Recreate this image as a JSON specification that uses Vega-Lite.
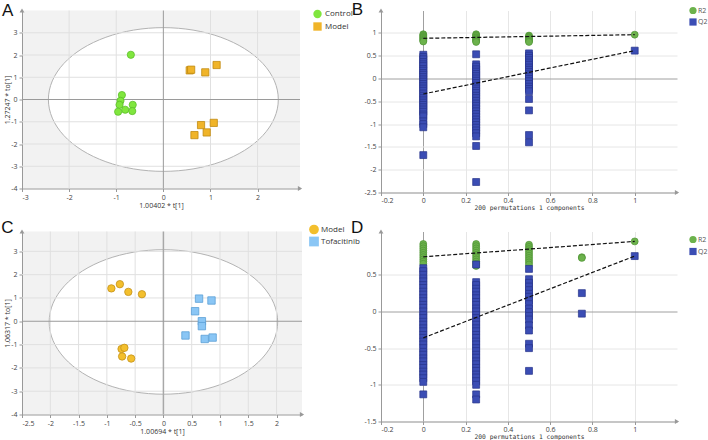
{
"$schema": "https://vega.github.io/schema/vega-lite/v6.json",
"padding": {"left": 1, "top": 0.5, "right": 0, "bottom": 0},
"background": "white",
"config": {
 "locale": {"number": {"decimal": ".", "thousands": ",", "grouping": [3], "currency": ["$", ""], "minus": "-"}},
 "view": {"stroke": null},
 "axis": {"labelFont": "Open Sans", "labelFontSize": 7, "labelColor": "#444", "titleFont": "Open Sans", "titleFontSize": 7, "titleFontWeight": "normal", "titleColor": "#333", "domainColor": "#999", "tickColor": "#999", "tickSize": 3, "labelPadding": 2, "grid": false, "labelOverlap": false, "format": "~g", "tickCount": 20},
 "legend": {"labelFont": "Open Sans", "labelColor": "#333", "padding": 0},
 "text": {"font": "Liberation Sans", "fontSize": 17, "color": "#111", "align": "left", "baseline": "alphabetic"}
},
"datasets": {
 "one": [{"k": 1}],
 "ellA": [
  {"i":0,"x":2.44,"y":0},{"i":1,"x":2.357,"y":0.836},{"i":2,"x":2.113,"y":1.615},{"i":3,"x":1.725,"y":2.284},{"i":4,"x":1.22,"y":2.797},{"i":5,"x":0.631,"y":3.12},{"i":6,"x":0,"y":3.23},{"i":7,"x":-0.631,"y":3.12},{"i":8,"x":-1.22,"y":2.797},{"i":9,"x":-1.725,"y":2.284},{"i":10,"x":-2.113,"y":1.615},{"i":11,"x":-2.357,"y":0.836},{"i":12,"x":-2.44,"y":0},{"i":13,"x":-2.357,"y":-0.836},{"i":14,"x":-2.113,"y":-1.615},{"i":15,"x":-1.725,"y":-2.284},{"i":16,"x":-1.22,"y":-2.797},{"i":17,"x":-0.631,"y":-3.12},{"i":18,"x":0,"y":-3.23},{"i":19,"x":0.631,"y":-3.12},{"i":20,"x":1.22,"y":-2.797},{"i":21,"x":1.725,"y":-2.284},{"i":22,"x":2.113,"y":-1.615},{"i":23,"x":2.357,"y":-0.836}
 ],
 "ellC": [
  {"i":0,"x":2.02,"y":-0.03},{"i":1,"x":1.951,"y":0.772},{"i":2,"x":1.749,"y":1.52},{"i":3,"x":1.428,"y":2.162},{"i":4,"x":1.01,"y":2.655},{"i":5,"x":0.523,"y":2.964},{"i":6,"x":0,"y":3.07},{"i":7,"x":-0.523,"y":2.964},{"i":8,"x":-1.01,"y":2.655},{"i":9,"x":-1.428,"y":2.162},{"i":10,"x":-1.749,"y":1.52},{"i":11,"x":-1.951,"y":0.772},{"i":12,"x":-2.02,"y":-0.03},{"i":13,"x":-1.951,"y":-0.832},{"i":14,"x":-1.749,"y":-1.58},{"i":15,"x":-1.428,"y":-2.222},{"i":16,"x":-1.01,"y":-2.715},{"i":17,"x":-0.523,"y":-3.024},{"i":18,"x":0,"y":-3.13},{"i":19,"x":0.523,"y":-3.024},{"i":20,"x":1.01,"y":-2.715},{"i":21,"x":1.428,"y":-2.222},{"i":22,"x":1.749,"y":-1.58},{"i":23,"x":1.951,"y":-0.832}
 ],
 "ptsA": [
  {"x":-0.69,"y":2.01,"g":"Control"},{"x":-0.88,"y":0.2,"g":"Control"},{"x":-0.91,"y":-0.06,"g":"Control"},{"x":-0.93,"y":-0.24,"g":"Control"},{"x":-0.65,"y":-0.24,"g":"Control"},{"x":-0.81,"y":-0.46,"g":"Control"},{"x":-0.96,"y":-0.55,"g":"Control"},{"x":-0.66,"y":-0.52,"g":"Control"},
  {"x":0.56,"y":1.31,"g":"Model"},{"x":0.59,"y":1.34,"g":"Model"},{"x":0.89,"y":1.22,"g":"Model"},{"x":1.13,"y":1.55,"g":"Model"},{"x":1.07,"y":-1.05,"g":"Model"},{"x":0.8,"y":-1.15,"g":"Model"},{"x":0.92,"y":-1.48,"g":"Model"},{"x":0.66,"y":-1.6,"g":"Model"}
 ],
 "ptsC": [
  {"x":-0.92,"y":1.41,"g":"Model"},{"x":-0.77,"y":1.59,"g":"Model"},{"x":-0.62,"y":1.26,"g":"Model"},{"x":-0.38,"y":1.16,"g":"Model"},{"x":-0.74,"y":-1.19,"g":"Model"},{"x":-0.69,"y":-1.14,"g":"Model"},{"x":-0.73,"y":-1.51,"g":"Model"},{"x":-0.57,"y":-1.6,"g":"Model"},
  {"x":0.63,"y":0.97,"g":"Tofacitinib"},{"x":0.85,"y":0.89,"g":"Tofacitinib"},{"x":0.56,"y":0.43,"g":"Tofacitinib"},{"x":0.68,"y":0.0,"g":"Tofacitinib"},{"x":0.68,"y":-0.21,"g":"Tofacitinib"},{"x":0.39,"y":-0.61,"g":"Tofacitinib"},{"x":0.73,"y":-0.76,"g":"Tofacitinib"},{"x":0.87,"y":-0.7,"g":"Tofacitinib"}
 ],
 "permB": [
  {"x":0,"y":0.97,"s":"R2"},{"x":0,"y":0.95,"s":"R2"},{"x":0,"y":0.93,"s":"R2"},{"x":0,"y":0.91,"s":"R2"},{"x":0,"y":0.89,"s":"R2"},{"x":0,"y":0.87,"s":"R2"},{"x":0,"y":0.85,"s":"R2"},{"x":0,"y":0.83,"s":"R2"},{"x":0,"y":0.81,"s":"R2"},
  {"x":0.25,"y":0.97,"s":"R2"},{"x":0.25,"y":0.95,"s":"R2"},{"x":0.25,"y":0.93,"s":"R2"},{"x":0.25,"y":0.9,"s":"R2"},{"x":0.25,"y":0.88,"s":"R2"},{"x":0.25,"y":0.86,"s":"R2"},{"x":0.25,"y":0.84,"s":"R2"},{"x":0.25,"y":0.82,"s":"R2"},{"x":0.25,"y":0.8,"s":"R2"},
  {"x":0.5,"y":0.94,"s":"R2"},{"x":0.5,"y":0.92,"s":"R2"},{"x":0.5,"y":0.9,"s":"R2"},{"x":0.5,"y":0.88,"s":"R2"},{"x":0.5,"y":0.86,"s":"R2"},{"x":0.5,"y":0.84,"s":"R2"},{"x":0.5,"y":0.82,"s":"R2"},{"x":0.5,"y":0.8,"s":"R2"},
  {"x":1,"y":0.96,"s":"R2"},
  {"x":0,"y":0.52,"s":"Q2"},{"x":0,"y":0.47,"s":"Q2"},{"x":0,"y":0.42,"s":"Q2"},{"x":0,"y":0.36,"s":"Q2"},{"x":0,"y":0.31,"s":"Q2"},{"x":0,"y":0.27,"s":"Q2"},{"x":0,"y":0.21,"s":"Q2"},{"x":0,"y":0.17,"s":"Q2"},{"x":0,"y":0.12,"s":"Q2"},{"x":0,"y":0.08,"s":"Q2"},{"x":0,"y":0.03,"s":"Q2"},{"x":0,"y":-0.02,"s":"Q2"},{"x":0,"y":-0.07,"s":"Q2"},{"x":0,"y":-0.12,"s":"Q2"},{"x":0,"y":-0.17,"s":"Q2"},{"x":0,"y":-0.22,"s":"Q2"},{"x":0,"y":-0.27,"s":"Q2"},{"x":0,"y":-0.33,"s":"Q2"},{"x":0,"y":-0.38,"s":"Q2"},{"x":0,"y":-0.43,"s":"Q2"},{"x":0,"y":-0.48,"s":"Q2"},{"x":0,"y":-0.53,"s":"Q2"},{"x":0,"y":-0.58,"s":"Q2"},{"x":0,"y":-0.63,"s":"Q2"},{"x":0,"y":-0.68,"s":"Q2"},{"x":0,"y":-0.73,"s":"Q2"},{"x":0,"y":-0.79,"s":"Q2"},{"x":0,"y":-0.83,"s":"Q2"},{"x":0,"y":-0.94,"s":"Q2"},{"x":0,"y":-1.0,"s":"Q2"},{"x":0,"y":-1.07,"s":"Q2"},{"x":0,"y":-1.68,"s":"Q2"},
  {"x":0.25,"y":0.53,"s":"Q2"},{"x":0.25,"y":0.31,"s":"Q2"},{"x":0.25,"y":0.26,"s":"Q2"},{"x":0.25,"y":0.2,"s":"Q2"},{"x":0.25,"y":0.15,"s":"Q2"},{"x":0.25,"y":0.1,"s":"Q2"},{"x":0.25,"y":0.05,"s":"Q2"},{"x":0.25,"y":0.0,"s":"Q2"},{"x":0.25,"y":-0.05,"s":"Q2"},{"x":0.25,"y":-0.1,"s":"Q2"},{"x":0.25,"y":-0.16,"s":"Q2"},{"x":0.25,"y":-0.22,"s":"Q2"},{"x":0.25,"y":-0.27,"s":"Q2"},{"x":0.25,"y":-0.32,"s":"Q2"},{"x":0.25,"y":-0.38,"s":"Q2"},{"x":0.25,"y":-0.43,"s":"Q2"},{"x":0.25,"y":-0.49,"s":"Q2"},{"x":0.25,"y":-0.55,"s":"Q2"},{"x":0.25,"y":-0.6,"s":"Q2"},{"x":0.25,"y":-0.66,"s":"Q2"},{"x":0.25,"y":-0.72,"s":"Q2"},{"x":0.25,"y":-0.78,"s":"Q2"},{"x":0.25,"y":-0.84,"s":"Q2"},{"x":0.25,"y":-0.9,"s":"Q2"},{"x":0.25,"y":-0.96,"s":"Q2"},{"x":0.25,"y":-1.02,"s":"Q2"},{"x":0.25,"y":-1.08,"s":"Q2"},{"x":0.25,"y":-1.14,"s":"Q2"},{"x":0.25,"y":-1.2,"s":"Q2"},{"x":0.25,"y":-1.27,"s":"Q2"},{"x":0.25,"y":-1.48,"s":"Q2"},{"x":0.25,"y":-2.27,"s":"Q2"},
  {"x":0.5,"y":0.55,"s":"Q2"},{"x":0.5,"y":0.5,"s":"Q2"},{"x":0.5,"y":0.45,"s":"Q2"},{"x":0.5,"y":0.4,"s":"Q2"},{"x":0.5,"y":0.35,"s":"Q2"},{"x":0.5,"y":0.3,"s":"Q2"},{"x":0.5,"y":0.24,"s":"Q2"},{"x":0.5,"y":0.19,"s":"Q2"},{"x":0.5,"y":0.14,"s":"Q2"},{"x":0.5,"y":0.09,"s":"Q2"},{"x":0.5,"y":0.04,"s":"Q2"},{"x":0.5,"y":-0.01,"s":"Q2"},{"x":0.5,"y":-0.06,"s":"Q2"},{"x":0.5,"y":-0.12,"s":"Q2"},{"x":0.5,"y":-0.18,"s":"Q2"},{"x":0.5,"y":-0.23,"s":"Q2"},{"x":0.5,"y":-0.28,"s":"Q2"},{"x":0.5,"y":-0.45,"s":"Q2"},{"x":0.5,"y":-0.7,"s":"Q2"},{"x":0.5,"y":-1.24,"s":"Q2"},{"x":0.5,"y":-1.4,"s":"Q2"},
  {"x":1,"y":0.61,"s":"Q2"}
 ],
 "regB": [
  {"x":0,"y":0.88,"s":"R2"},{"x":1,"y":0.96,"s":"R2"},{"x":0,"y":-0.34,"s":"Q2"},{"x":1,"y":0.61,"s":"Q2"}
 ],
 "permD": [
  {"x":0,"y":0.92,"s":"R2"},{"x":0,"y":0.89,"s":"R2"},{"x":0,"y":0.86,"s":"R2"},{"x":0,"y":0.83,"s":"R2"},{"x":0,"y":0.8,"s":"R2"},{"x":0,"y":0.77,"s":"R2"},{"x":0,"y":0.74,"s":"R2"},{"x":0,"y":0.71,"s":"R2"},{"x":0,"y":0.68,"s":"R2"},{"x":0,"y":0.65,"s":"R2"},
  {"x":0.25,"y":0.92,"s":"R2"},{"x":0.25,"y":0.89,"s":"R2"},{"x":0.25,"y":0.86,"s":"R2"},{"x":0.25,"y":0.83,"s":"R2"},{"x":0.25,"y":0.8,"s":"R2"},{"x":0.25,"y":0.77,"s":"R2"},{"x":0.25,"y":0.74,"s":"R2"},{"x":0.25,"y":0.71,"s":"R2"},{"x":0.25,"y":0.68,"s":"R2"},{"x":0.25,"y":0.65,"s":"R2"},{"x":0.25,"y":0.62,"s":"R2"},
  {"x":0.5,"y":0.91,"s":"R2"},{"x":0.5,"y":0.88,"s":"R2"},{"x":0.5,"y":0.85,"s":"R2"},{"x":0.5,"y":0.82,"s":"R2"},{"x":0.5,"y":0.79,"s":"R2"},{"x":0.5,"y":0.76,"s":"R2"},{"x":0.5,"y":0.73,"s":"R2"},{"x":0.5,"y":0.7,"s":"R2"},{"x":0.5,"y":0.67,"s":"R2"},{"x":0.5,"y":0.64,"s":"R2"},
  {"x":0.75,"y":0.74,"s":"R2"},{"x":0.75,"y":0.73,"s":"R2"},
  {"x":1,"y":0.955,"s":"R2"},
  {"x":0,"y":0.59,"s":"Q2"},{"x":0,"y":0.55,"s":"Q2"},{"x":0,"y":0.5,"s":"Q2"},{"x":0,"y":0.45,"s":"Q2"},{"x":0,"y":0.41,"s":"Q2"},{"x":0,"y":0.36,"s":"Q2"},{"x":0,"y":0.32,"s":"Q2"},{"x":0,"y":0.27,"s":"Q2"},{"x":0,"y":0.23,"s":"Q2"},{"x":0,"y":0.18,"s":"Q2"},{"x":0,"y":0.14,"s":"Q2"},{"x":0,"y":0.09,"s":"Q2"},{"x":0,"y":0.05,"s":"Q2"},{"x":0,"y":0.0,"s":"Q2"},{"x":0,"y":-0.05,"s":"Q2"},{"x":0,"y":-0.09,"s":"Q2"},{"x":0,"y":-0.14,"s":"Q2"},{"x":0,"y":-0.18,"s":"Q2"},{"x":0,"y":-0.23,"s":"Q2"},{"x":0,"y":-0.27,"s":"Q2"},{"x":0,"y":-0.32,"s":"Q2"},{"x":0,"y":-0.36,"s":"Q2"},{"x":0,"y":-0.41,"s":"Q2"},{"x":0,"y":-0.45,"s":"Q2"},{"x":0,"y":-0.5,"s":"Q2"},{"x":0,"y":-0.55,"s":"Q2"},{"x":0,"y":-0.59,"s":"Q2"},{"x":0,"y":-0.64,"s":"Q2"},{"x":0,"y":-0.68,"s":"Q2"},{"x":0,"y":-0.73,"s":"Q2"},{"x":0,"y":-0.77,"s":"Q2"},{"x":0,"y":-0.82,"s":"Q2"},{"x":0,"y":-0.86,"s":"Q2"},{"x":0,"y":-0.91,"s":"Q2"},{"x":0,"y":-0.96,"s":"Q2"},{"x":0,"y":-1.13,"s":"Q2"},
  {"x":0.25,"y":0.64,"s":"Q2"},{"x":0.25,"y":0.4,"s":"Q2"},{"x":0.25,"y":0.36,"s":"Q2"},{"x":0.25,"y":0.31,"s":"Q2"},{"x":0.25,"y":0.27,"s":"Q2"},{"x":0.25,"y":0.22,"s":"Q2"},{"x":0.25,"y":0.18,"s":"Q2"},{"x":0.25,"y":0.13,"s":"Q2"},{"x":0.25,"y":0.09,"s":"Q2"},{"x":0.25,"y":0.04,"s":"Q2"},{"x":0.25,"y":0.0,"s":"Q2"},{"x":0.25,"y":-0.05,"s":"Q2"},{"x":0.25,"y":-0.09,"s":"Q2"},{"x":0.25,"y":-0.14,"s":"Q2"},{"x":0.25,"y":-0.18,"s":"Q2"},{"x":0.25,"y":-0.23,"s":"Q2"},{"x":0.25,"y":-0.27,"s":"Q2"},{"x":0.25,"y":-0.32,"s":"Q2"},{"x":0.25,"y":-0.36,"s":"Q2"},{"x":0.25,"y":-0.41,"s":"Q2"},{"x":0.25,"y":-0.45,"s":"Q2"},{"x":0.25,"y":-0.5,"s":"Q2"},{"x":0.25,"y":-0.54,"s":"Q2"},{"x":0.25,"y":-0.59,"s":"Q2"},{"x":0.25,"y":-0.63,"s":"Q2"},{"x":0.25,"y":-0.68,"s":"Q2"},{"x":0.25,"y":-0.72,"s":"Q2"},{"x":0.25,"y":-0.77,"s":"Q2"},{"x":0.25,"y":-0.81,"s":"Q2"},{"x":0.25,"y":-0.86,"s":"Q2"},{"x":0.25,"y":-0.9,"s":"Q2"},{"x":0.25,"y":-0.95,"s":"Q2"},{"x":0.25,"y":-1.0,"s":"Q2"},{"x":0.25,"y":-1.13,"s":"Q2"},{"x":0.25,"y":-1.2,"s":"Q2"},
  {"x":0.5,"y":0.58,"s":"Q2"},{"x":0.5,"y":0.44,"s":"Q2"},{"x":0.5,"y":0.39,"s":"Q2"},{"x":0.5,"y":0.34,"s":"Q2"},{"x":0.5,"y":0.29,"s":"Q2"},{"x":0.5,"y":0.24,"s":"Q2"},{"x":0.5,"y":0.2,"s":"Q2"},{"x":0.5,"y":0.15,"s":"Q2"},{"x":0.5,"y":0.1,"s":"Q2"},{"x":0.5,"y":0.04,"s":"Q2"},{"x":0.5,"y":-0.01,"s":"Q2"},{"x":0.5,"y":-0.06,"s":"Q2"},{"x":0.5,"y":-0.11,"s":"Q2"},{"x":0.5,"y":-0.19,"s":"Q2"},{"x":0.5,"y":-0.26,"s":"Q2"},{"x":0.5,"y":-0.44,"s":"Q2"},{"x":0.5,"y":-0.5,"s":"Q2"},{"x":0.5,"y":-0.81,"s":"Q2"},
  {"x":0.75,"y":0.25,"s":"Q2"},{"x":0.75,"y":-0.03,"s":"Q2"},
  {"x":1,"y":0.755,"s":"Q2"}
 ],
 "regD": [
  {"x":0,"y":0.745,"s":"R2"},{"x":1,"y":0.955,"s":"R2"},{"x":0,"y":-0.36,"s":"Q2"},{"x":1,"y":0.755,"s":"Q2"}
 ]
},
"columns": 2,
"spacing": {"row": 39, "column": 79},
"bounds": "flush",
"resolve": {"scale": {"x": "independent", "y": "independent", "color": "independent", "shape": "independent", "stroke": "independent"}, "legend": {"color": "independent", "shape": "independent", "stroke": "independent"}},
"concat": [
  {
   "width": 278, "height": 178,
   "view": {"fill": "#f2f2f2", "stroke": null},
   "layer": [
    {"data": {"name": "ellA"}, "mark": {"type": "line", "interpolate": "cardinal-closed", "fill": "white", "stroke": "#b3b3b3", "strokeWidth": 1},
     "encoding": {
      "x": {"field": "x", "type": "quantitative", "scale": {"domain": [-3, 2.9], "nice": false, "zero": false}, "axis": {"values": [-3, -2, -1, 0, 1, 2], "tickCount": 20, "title": "1.00402 * t[1]", "titlePadding": 1, "format": "~g", "labelOverlap": false}},
      "y": {"field": "y", "type": "quantitative", "scale": {"domain": [-4, 4], "nice": false, "zero": false}, "axis": {"values": [-4, -3, -2, -1, 0, 1, 2, 3], "tickCount": 20, "title": "1.27247 * to[1]", "titlePadding": 0, "format": "~g", "labelOverlap": false}},
      "order": {"field": "i", "type": "quantitative"}}},
    {"data": {"values": [{"x": -2}, {"x": -1}, {"x": 1}, {"x": 2}]}, "mark": {"type": "rule", "color": "#e0e0e0", "strokeWidth": 1}, "encoding": {"x": {"field": "x", "type": "quantitative"}}},
    {"data": {"values": [{"y": -3}, {"y": -2}, {"y": -1}, {"y": 1}, {"y": 2}, {"y": 3}]}, "mark": {"type": "rule", "color": "#e0e0e0", "strokeWidth": 1}, "encoding": {"y": {"field": "y", "type": "quantitative"}}},
    {"data": {"values": [{"x": 0}]}, "mark": {"type": "rule", "color": "#9a9a9a", "strokeWidth": 1}, "encoding": {"x": {"field": "x", "type": "quantitative"}}},
    {"data": {"values": [{"y": 0}]}, "mark": {"type": "rule", "color": "#9a9a9a", "strokeWidth": 1}, "encoding": {"y": {"field": "y", "type": "quantitative"}}},
    {"data": {"values": [{"x": 2.9, "y": -4}]}, "mark": {"type": "point", "shape": "triangle-right", "filled": true, "color": "#999", "size": 24, "opacity": 1}, "encoding": {"x": {"field": "x", "type": "quantitative"}, "y": {"field": "y", "type": "quantitative"}}},
    {"data": {"values": [{"x": -3, "y": 4}]}, "mark": {"type": "point", "shape": "triangle-up", "filled": true, "color": "#999", "size": 24, "opacity": 1}, "encoding": {"x": {"field": "x", "type": "quantitative"}, "y": {"field": "y", "type": "quantitative"}}},
    {"data": {"name": "ptsA"}, "mark": {"type": "point", "filled": true, "size": 52, "strokeWidth": 0.8, "opacity": 1},
     "encoding": {
      "x": {"field": "x", "type": "quantitative"},
      "y": {"field": "y", "type": "quantitative"},
      "color": {"field": "g", "type": "nominal", "scale": {"domain": ["Control", "Model"], "range": ["#80e63e", "#f0b429"]}, "legend": {"orient": "none", "legendX": 291, "legendY": -1, "title": null, "symbolType": "square", "symbolSize": 70, "labelFontSize": 8, "rowPadding": 3.5, "labelOffset": 3, "symbolStrokeWidth": 0}},
      "shape": {"field": "g", "type": "nominal", "scale": {"domain": ["Control", "Model"], "range": ["circle", "square"]}, "legend": null},
      "stroke": {"field": "g", "type": "nominal", "scale": {"domain": ["Control", "Model"], "range": ["#5cbf2a", "#c08a12"]}, "legend": null}}},
    {"data": {"name": "one"}, "mark": {"type": "text", "text": "A"}, "encoding": {"x": {"datum": -3.425, "type": "quantitative"}, "y": {"datum": 3.775, "type": "quantitative"}}}
   ]
  },
  {
   "width": 296, "height": 182,
   "layer": [
    {"data": {"name": "permB"}, "mark": {"type": "point", "filled": true, "size": 48, "strokeWidth": 0.7, "opacity": 1},
     "encoding": {
      "x": {"field": "x", "type": "quantitative", "scale": {"domain": [-0.2, 1.2], "nice": false, "zero": false}, "axis": {"values": [-0.2, 0, 0.2, 0.4, 0.6, 0.8, 1], "tickCount": 20, "format": "~g", "labelOverlap": false, "grid": true, "gridColor": {"condition": {"test": "datum.value === 0", "value": "#a0a0a0"}, "value": "#e6e6e6"}, "title": "200 permutations 1 components", "titleFont": "DejaVu Sans Mono", "titleFontSize": 6.3, "titlePadding": 1, "labelPadding": 1}},
      "y": {"field": "y", "type": "quantitative", "scale": {"domain": [-2.5, 1.49], "nice": false, "zero": false}, "axis": {"values": [-2.5, -2, -1.5, -1, -0.5, 0, 0.5, 1], "tickCount": 20, "format": "~g", "labelOverlap": false, "grid": true, "gridColor": {"condition": {"test": "datum.value === 0", "value": "#a0a0a0"}, "value": "#e6e6e6"}, "title": null}},
      "color": {"field": "s", "type": "nominal", "scale": {"domain": ["R2", "Q2"], "range": ["#6cb24c", "#3b4db4"]}, "legend": {"orient": "none", "legendX": 308, "legendY": -4, "title": null, "symbolSize": 52, "labelFontSize": 7, "labelColor": "#555", "rowPadding": 3.5, "labelOffset": 1, "symbolStrokeWidth": 0}},
      "shape": {"field": "s", "type": "nominal", "scale": {"domain": ["R2", "Q2"], "range": ["circle", "square"]}},
      "stroke": {"field": "s", "type": "nominal", "scale": {"domain": ["R2", "Q2"], "range": ["#4f9435", "#27348a"]}, "legend": null}}},
    {"data": {"name": "regB"}, "mark": {"type": "line", "color": "#111", "strokeWidth": 1.2, "strokeDash": [4, 2]},
     "encoding": {"x": {"field": "x", "type": "quantitative"}, "y": {"field": "y", "type": "quantitative"}, "detail": {"field": "s", "type": "nominal"}}},
    {"data": {"values": [{"x": 1.2, "y": -2.5}]}, "mark": {"type": "point", "shape": "triangle-right", "filled": true, "color": "#999", "size": 24, "opacity": 1}, "encoding": {"x": {"field": "x", "type": "quantitative"}, "y": {"field": "y", "type": "quantitative"}}},
    {"data": {"values": [{"x": -0.2, "y": 1.49}]}, "mark": {"type": "point", "shape": "triangle-up", "filled": true, "color": "#999", "size": 24, "opacity": 1}, "encoding": {"x": {"field": "x", "type": "quantitative"}, "y": {"field": "y", "type": "quantitative"}}},
    {"data": {"name": "one"}, "mark": {"type": "text", "text": "B"}, "encoding": {"x": {"datum": -0.338, "type": "quantitative"}, "y": {"datum": 1.402, "type": "quantitative"}}}
   ]
  },
  {
   "width": 280, "height": 183,
   "view": {"fill": "#f2f2f2", "stroke": null},
   "layer": [
    {"data": {"name": "ellC"}, "mark": {"type": "line", "interpolate": "cardinal-closed", "fill": "white", "stroke": "#b3b3b3", "strokeWidth": 1},
     "encoding": {
      "x": {"field": "x", "type": "quantitative", "scale": {"domain": [-2.5, 2.45], "nice": false, "zero": false}, "axis": {"values": [-2.5, -2, -1.5, -1, -0.5, 0, 0.5, 1, 1.5, 2], "tickCount": 20, "format": "~g", "labelOverlap": false, "title": "1.00694 * t[1]", "titlePadding": 1}},
      "y": {"field": "y", "type": "quantitative", "scale": {"domain": [-4, 3.85], "nice": false, "zero": false}, "axis": {"values": [-4, -3, -2, -1, 0, 1, 2, 3], "tickCount": 20, "format": "~g", "labelOverlap": false, "title": "1.06317 * to[1]", "titlePadding": 0}},
      "order": {"field": "i", "type": "quantitative"}}},
    {"data": {"values": [{"x": -2}, {"x": -1.5}, {"x": -1}, {"x": -0.5}, {"x": 0.5}, {"x": 1}, {"x": 1.5}, {"x": 2}]}, "mark": {"type": "rule", "color": "#e0e0e0", "strokeWidth": 1}, "encoding": {"x": {"field": "x", "type": "quantitative"}}},
    {"data": {"values": [{"y": -3}, {"y": -2}, {"y": -1}, {"y": 1}, {"y": 2}, {"y": 3}]}, "mark": {"type": "rule", "color": "#e0e0e0", "strokeWidth": 1}, "encoding": {"y": {"field": "y", "type": "quantitative"}}},
    {"data": {"values": [{"x": 0}]}, "mark": {"type": "rule", "color": "#a8a8a8", "strokeWidth": 1.5}, "encoding": {"x": {"field": "x", "type": "quantitative"}}},
    {"data": {"values": [{"y": 0}]}, "mark": {"type": "rule", "color": "#9a9a9a", "strokeWidth": 1}, "encoding": {"y": {"field": "y", "type": "quantitative"}}},
    {"data": {"values": [{"x": 2.45, "y": -4}]}, "mark": {"type": "point", "shape": "triangle-right", "filled": true, "color": "#999", "size": 24, "opacity": 1}, "encoding": {"x": {"field": "x", "type": "quantitative"}, "y": {"field": "y", "type": "quantitative"}}},
    {"data": {"values": [{"x": -2.5, "y": 3.85}]}, "mark": {"type": "point", "shape": "triangle-up", "filled": true, "color": "#999", "size": 24, "opacity": 1}, "encoding": {"x": {"field": "x", "type": "quantitative"}, "y": {"field": "y", "type": "quantitative"}}},
    {"data": {"name": "ptsC"}, "mark": {"type": "point", "filled": true, "size": 55, "strokeWidth": 0.8, "opacity": 1},
     "encoding": {
      "x": {"field": "x", "type": "quantitative"},
      "y": {"field": "y", "type": "quantitative"},
      "color": {"field": "g", "type": "nominal", "scale": {"domain": ["Model", "Tofacitinib"], "range": ["#f3bf2d", "#8ac6f5"]}, "legend": {"orient": "none", "legendX": 287, "legendY": -7, "title": null, "symbolType": "square", "symbolSize": 95, "labelFontSize": 8, "rowPadding": 2, "labelOffset": 2, "symbolStrokeWidth": 0}},
      "shape": {"field": "g", "type": "nominal", "scale": {"domain": ["Model", "Tofacitinib"], "range": ["circle", "square"]}, "legend": null},
      "stroke": {"field": "g", "type": "nominal", "scale": {"domain": ["Model", "Tofacitinib"], "range": ["#c4921a", "#5c9fd6"]}, "legend": null}}},
    {"data": {"name": "one"}, "mark": {"type": "text", "text": "C"}, "encoding": {"x": {"datum": -2.866, "type": "quantitative"}, "y": {"datum": 3.807, "type": "quantitative"}}}
   ]
  },
  {
   "width": 296, "height": 190,
   "layer": [
    {"data": {"name": "permD"}, "mark": {"type": "point", "filled": true, "size": 48, "strokeWidth": 0.7, "opacity": 1},
     "encoding": {
      "x": {"field": "x", "type": "quantitative", "scale": {"domain": [-0.2, 1.2], "nice": false, "zero": false}, "axis": {"values": [-0.2, 0, 0.2, 0.4, 0.6, 0.8, 1], "tickCount": 20, "format": "~g", "labelOverlap": false, "grid": true, "gridColor": {"condition": {"test": "datum.value === 0", "value": "#a0a0a0"}, "value": "#e6e6e6"}, "title": "200 permutations 1 components", "titleFont": "DejaVu Sans Mono", "titleFontSize": 6.3, "titlePadding": 1, "labelPadding": 1}},
      "y": {"field": "y", "type": "quantitative", "scale": {"domain": [-1.5, 1.09], "nice": false, "zero": false}, "axis": {"values": [-1.5, -1, -0.5, 0, 0.5], "tickCount": 20, "format": "~g", "labelOverlap": false, "grid": true, "gridColor": {"condition": {"test": "datum.value === 0", "value": "#a0a0a0"}, "value": "#e6e6e6"}, "title": null}},
      "color": {"field": "s", "type": "nominal", "scale": {"domain": ["R2", "Q2"], "range": ["#6cb24c", "#3b4db4"]}, "legend": {"orient": "none", "legendX": 308, "legendY": 4, "title": null, "symbolSize": 52, "labelFontSize": 7, "labelColor": "#555", "rowPadding": 4, "labelOffset": 1, "symbolStrokeWidth": 0}},
      "shape": {"field": "s", "type": "nominal", "scale": {"domain": ["R2", "Q2"], "range": ["circle", "square"]}},
      "stroke": {"field": "s", "type": "nominal", "scale": {"domain": ["R2", "Q2"], "range": ["#4f9435", "#27348a"]}, "legend": null}}},
    {"data": {"name": "regD"}, "mark": {"type": "line", "color": "#111", "strokeWidth": 1.2, "strokeDash": [4, 2]},
     "encoding": {"x": {"field": "x", "type": "quantitative"}, "y": {"field": "y", "type": "quantitative"}, "detail": {"field": "s", "type": "nominal"}}},
    {"data": {"values": [{"x": 1.2, "y": -1.5}]}, "mark": {"type": "point", "shape": "triangle-right", "filled": true, "color": "#999", "size": 24, "opacity": 1}, "encoding": {"x": {"field": "x", "type": "quantitative"}, "y": {"field": "y", "type": "quantitative"}}},
    {"data": {"values": [{"x": -0.2, "y": 1.09}]}, "mark": {"type": "point", "shape": "triangle-up", "filled": true, "color": "#999", "size": 24, "opacity": 1}, "encoding": {"x": {"field": "x", "type": "quantitative"}, "y": {"field": "y", "type": "quantitative"}}},
    {"data": {"name": "one"}, "mark": {"type": "text", "text": "D"}, "encoding": {"x": {"datum": -0.342, "type": "quantitative"}, "y": {"datum": 1.076, "type": "quantitative"}}}
   ]
  }
]
}
